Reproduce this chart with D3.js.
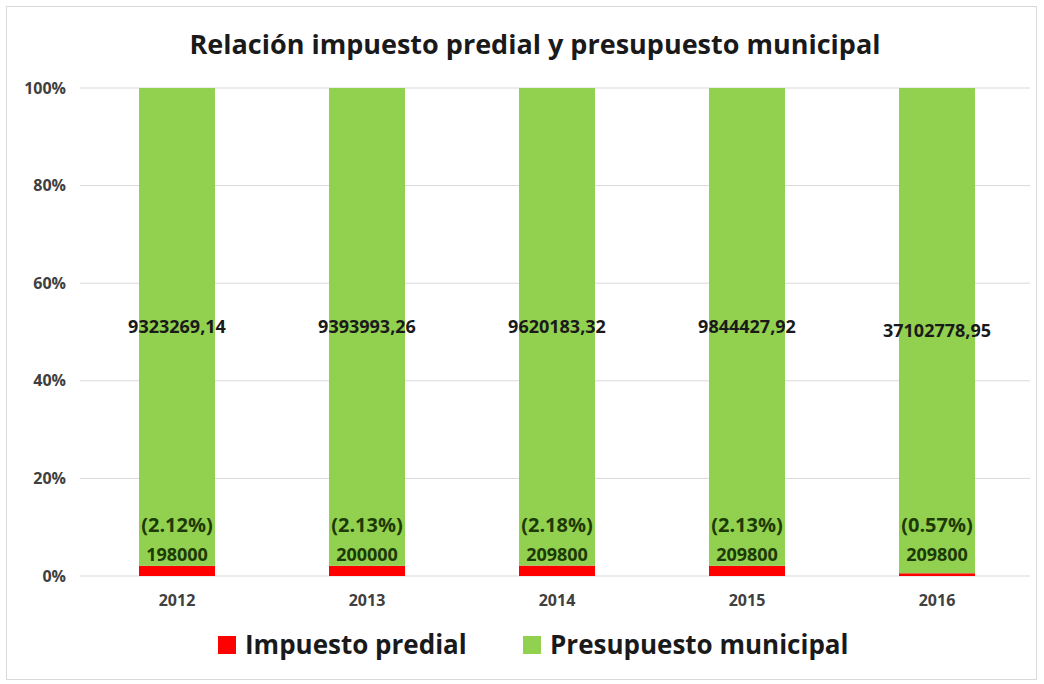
<!DOCTYPE html>
<html>
<head>
<meta charset="utf-8">
<script src="https://cdn.jsdelivr.net/npm/d3@7"></script>
<style>
  body { margin: 0; background: #fff; }
  text { font-family: "Open Sans", "DejaVu Sans", sans-serif; }
</style>
</head>
<body>
<svg id="chart" width="1044" height="684"></svg>
<script>
const years = ['2012', '2013', '2014', '2015', '2016'];
const impuesto = [198000, 200000, 209800, 209800, 209800];
const presupuesto = [9323269.14, 9393993.26, 9620183.32, 9844427.92, 37102778.95];
const presupuestoLabels = ['9323269,14', '9393993,26', '9620183,32', '9844427,92', '37102778,95'];
const pctLabels = ['(2.12%)', '(2.13%)', '(2.18%)', '(2.13%)', '(0.57%)'];
const yTicks = [0, 0.2, 0.4, 0.6, 0.8, 1];
const seriesNames = ['Impuesto predial', 'Presupuesto municipal'];
const colors = ['#ff0000', '#92d050'];

const svg = d3.select('#chart');

// frame
svg.append('rect')
    .attr('x', 6.5).attr('y', 6.5)
    .attr('width', 1030).attr('height', 673)
    .attr('fill', '#fff')
    .attr('stroke', '#d9d9d9');

const rows = years.map((y, i) => ({ year: y, imp: impuesto[i], pre: presupuesto[i] }));
const stack = d3.stack().keys(['imp', 'pre']).offset(d3.stackOffsetExpand);
const series = stack(rows);

const x = d3.scaleBand().domain(years).range([82, 1032]).paddingInner(0.6).paddingOuter(0.3);
const y = d3.scaleLinear().domain([0, 1]).range([576, 88]);

// gridlines
svg.append('g')
    .selectAll('line')
    .data(yTicks)
    .join('line')
    .attr('x1', 80).attr('x2', 1030)
    .attr('y1', d => y(d)).attr('y2', d => y(d))
    .attr('stroke', '#d9d9d9')
    .attr('stroke-width', 1);

// y axis
const yAxis = svg.append('g')
    .attr('transform', 'translate(66,0)')
    .call(d3.axisLeft(y).tickValues(yTicks).tickFormat(d3.format('.0%')).tickSize(0).tickPadding(0));
yAxis.select('.domain').remove();
yAxis.selectAll('text')
    .attr('font-size', 16)
    .attr('font-weight', 'bold')
    .attr('fill', '#404040')
    .attr('font-family', '"Open Sans", sans-serif');

// x axis
const xAxis = svg.append('g')
    .attr('transform', 'translate(0,595)')
    .call(d3.axisBottom(x).tickSize(0).tickPadding(0));
xAxis.select('.domain').remove();
xAxis.selectAll('text')
    .attr('font-size', 16)
    .attr('font-weight', 'bold')
    .attr('fill', '#404040')
    .attr('font-family', '"Open Sans", sans-serif');

// bars
svg.append('g')
    .selectAll('g')
    .data(series)
    .join('g')
    .attr('fill', (d, i) => colors[i])
    .selectAll('rect')
    .data(d => d)
    .join('rect')
    .attr('x', d => x(d.data.year))
    .attr('width', x.bandwidth())
    .attr('y', d => y(d[1]))
    .attr('height', d => y(d[0]) - y(d[1]));

// presupuesto labels (centre of green segment)
svg.append('g')
    .selectAll('text')
    .data(series[1])
    .join('text')
    .attr('x', d => x(d.data.year) + x.bandwidth() / 2)
    .attr('y', d => (y(d[0]) + y(d[1])) / 2)
    .attr('dy', '0.35em')
    .attr('text-anchor', 'middle')
    .attr('font-size', 18)
    .attr('font-weight', 'bold')
    .attr('fill', '#1a1a1a')
    .text((d, i) => presupuestoLabels[i]);

// impuesto value + percent labels
const impLabels = svg.append('g')
    .selectAll('g')
    .data(series[0])
    .join('g')
    .attr('transform', d => `translate(${x(d.data.year) + x.bandwidth() / 2},${y(d[0])})`);
impLabels.append('text')
    .attr('y', -21)
    .attr('dy', '0.35em')
    .attr('text-anchor', 'middle')
    .attr('font-size', 18)
    .attr('font-weight', 'bold')
    .attr('fill', '#1d3a05')
    .text((d, i) => impuesto[i]);
impLabels.append('text')
    .attr('y', -51)
    .attr('dy', '0.35em')
    .attr('text-anchor', 'middle')
    .attr('font-size', 20)
    .attr('font-weight', 'bold')
    .attr('fill', '#1d3a05')
    .text((d, i) => pctLabels[i]);

// title
svg.append('text')
    .attr('x', 535).attr('y', 45)
    .attr('dy', '0.35em')
    .attr('text-anchor', 'middle')
    .attr('font-size', 27)
    .attr('font-weight', 'bold')
    .attr('fill', '#1a1a1a')
    .text('Relación impuesto predial y presupuesto municipal');

// legend
const legendX = [218, 523];
const legend = svg.append('g')
    .selectAll('g')
    .data(seriesNames)
    .join('g')
    .attr('transform', (d, i) => `translate(${legendX[i]},645)`);
legend.append('rect')
    .attr('x', 0).attr('y', -9)
    .attr('width', 18).attr('height', 18)
    .attr('fill', (d, i) => colors[i]);
legend.append('text')
    .attr('x', 27)
    .attr('dy', '0.35em')
    .attr('font-size', 26)
    .attr('font-weight', 'bold')
    .attr('fill', '#1a1a1a')
    .text(d => d);
</script>
</body>
</html>
